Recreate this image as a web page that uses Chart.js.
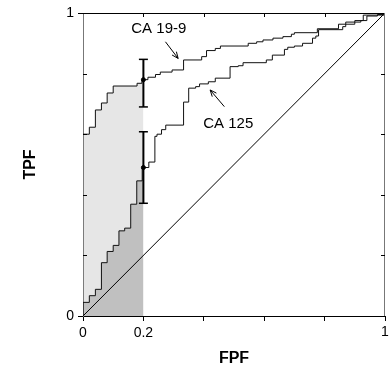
<!DOCTYPE html>
<html>
<head>
<meta charset="utf-8">
<script src="https://cdn.jsdelivr.net/npm/chart.js@4/dist/chart.umd.min.js"></script>
<style>
  body { margin: 0; background: #fff; }
</style>
</head>
<body>
<canvas id="roc" width="389" height="369"></canvas>
<script>
// ROC curves: each (fpf, tpf) pair is where a step ends
// (horizontal run first, then the jump up)
const ca199Fpf = [0, 0, 0.021, 0.041, 0.061, 0.080, 0.100, 0.179, 0.195, 0.215, 0.240, 0.256, 0.295,
  0.333, 0.393, 0.409, 0.438, 0.455, 0.547, 0.575, 0.596, 0.629, 0.662, 0.690, 0.700, 0.776, 0.846,
  0.900, 0.928, 1];
const ca199Tpf = [0, 0.600, 0.623, 0.680, 0.703, 0.736, 0.759, 0.768, 0.780, 0.788, 0.797, 0.805, 0.812,
  0.845, 0.856, 0.876, 0.883, 0.891, 0.900, 0.905, 0.911, 0.917, 0.922, 0.930, 0.935, 0.948, 0.963,
  0.975, 0.993, 1];

const ca125Fpf = [0, 0, 0.021, 0.041, 0.061, 0.080, 0.100, 0.119, 0.138, 0.158, 0.178, 0.196, 0.218,
  0.238, 0.245, 0.260, 0.274, 0.333, 0.350, 0.373, 0.386, 0.415, 0.438, 0.487, 0.514, 0.530, 0.607,
  0.627, 0.667, 0.678, 0.700, 0.727, 0.760, 0.771, 0.780, 0.860, 0.870, 0.920, 0.940, 0.975, 1];
const ca125Tpf = [0, 0.045, 0.067, 0.088, 0.176, 0.213, 0.233, 0.281, 0.290, 0.369, 0.446, 0.490, 0.508,
  0.593, 0.600, 0.615, 0.630, 0.706, 0.752, 0.757, 0.766, 0.773, 0.785, 0.823, 0.826, 0.836, 0.845,
  0.861, 0.880, 0.887, 0.891, 0.900, 0.917, 0.924, 0.945, 0.955, 0.970, 0.975, 0.990, 0.995, 1];

// TPF at FPF = 0.2 with its interval, [CA 19-9, CA 125]
const cutFpf = 0.2;
const cutTpf = [0.780, 0.490];
const cutLow = [0.690, 0.372];
const cutHigh = [0.847, 0.608];

const curveNames = ['CA 19-9', 'CA 125'];
// label place and arrow (tail -> head), in data units
const labelAt = [[0.251, 0.947], [0.481, 0.634]];
const arrowFrom = [[0.273, 0.905], [0.468, 0.691]];
const arrowTo = [[0.315, 0.850], [0.421, 0.746]];

const xTickLabels = [0, 0.2, 1];
const yTickLabels = [0, 1];

function pts(xs, ys) {
  return xs.map((v, i) => ({ x: v, y: ys[i] }));
}
// part of a curve from 0 up to lim, for the shaded areas
function upTo(xs, ys, lim) {
  const out = [];
  let last = 0;
  xs.forEach((v, i) => {
    if (v <= lim) { out.push({ x: v, y: ys[i] }); last = ys[i]; }
  });
  out.push({ x: lim, y: last });
  return out;
}
function isLabel(list, v) {
  return list.some(t => Math.abs(t - v) < 1e-6);
}

const FONT = 'Liberation Sans, Arial, sans-serif';

const extras = {
  id: 'extras',
  afterDatasetsDraw(chart) {
    const { ctx, chartArea: a, scales: { x, y } } = chart;
    ctx.save();
    ctx.lineWidth = 1;
    ctx.strokeStyle = '#000';
    ctx.beginPath();
    ctx.moveTo(a.left, a.top + 0.5);
    ctx.lineTo(a.right, a.top + 0.5);
    ctx.stroke();
    ctx.strokeStyle = '#777';
    ctx.beginPath();
    ctx.moveTo(a.right - 0.5, a.top);
    ctx.lineTo(a.right - 0.5, a.bottom);
    ctx.stroke();

    // inner ticks on top, left and right
    ctx.strokeStyle = '#000';
    ctx.beginPath();
    x.ticks.forEach(t => {
      if (t.value <= 0 || t.value >= 1) return;
      const px = Math.round(x.getPixelForValue(t.value)) + 0.5;
      ctx.moveTo(px, a.top);
      ctx.lineTo(px, a.top + 4);
    });
    y.ticks.forEach(t => {
      if (t.value <= 0 || t.value >= 1) return;
      const py = Math.round(y.getPixelForValue(t.value)) + 0.5;
      ctx.moveTo(a.left, py);
      ctx.lineTo(a.left + 4, py);
      ctx.moveTo(a.right, py);
      ctx.lineTo(a.right - 4, py);
    });
    ctx.stroke();

    // last x label, drawn here so the scale does not pad the plot for it
    ctx.fillStyle = '#000';
    ctx.font = '14px ' + FONT;
    ctx.textAlign = 'center';
    ctx.textBaseline = 'top';
    ctx.fillText(String(xTickLabels[xTickLabels.length - 1]),
      x.getPixelForValue(xTickLabels[xTickLabels.length - 1]), a.bottom + 9);

    // curve names with arrows
    ctx.font = '15px ' + FONT;
    ctx.textBaseline = 'middle';
    curveNames.forEach((name, i) => {
      ctx.fillText(name, x.getPixelForValue(labelAt[i][0]), y.getPixelForValue(labelAt[i][1]));
      const x0 = x.getPixelForValue(arrowFrom[i][0]), y0 = y.getPixelForValue(arrowFrom[i][1]);
      const x1 = x.getPixelForValue(arrowTo[i][0]), y1 = y.getPixelForValue(arrowTo[i][1]);
      const ang = Math.atan2(y1 - y0, x1 - x0);
      ctx.beginPath();
      ctx.moveTo(x0, y0);
      ctx.lineTo(x1, y1);
      ctx.moveTo(x1 - 7 * Math.cos(ang - 0.4), y1 - 7 * Math.sin(ang - 0.4));
      ctx.lineTo(x1, y1);
      ctx.lineTo(x1 - 7 * Math.cos(ang + 0.4), y1 - 7 * Math.sin(ang + 0.4));
      ctx.stroke();
    });
    ctx.restore();
  }
};

const datasets = [
  { data: upTo(ca199Fpf, ca199Tpf, cutFpf), stepped: true, fill: 'origin',
    backgroundColor: '#e6e6e6', borderWidth: 0, pointRadius: 0, order: 10 },
  { data: upTo(ca125Fpf, ca125Tpf, cutFpf), stepped: true, fill: 'origin',
    backgroundColor: '#c0c0c0', borderWidth: 0, pointRadius: 0, order: 9 },
  { data: [{ x: 0, y: 0 }, { x: 1, y: 1 }], borderColor: '#000', borderWidth: 1,
    pointRadius: 0, order: 5 },
  { data: pts(ca199Fpf, ca199Tpf), stepped: true, borderColor: '#111', borderWidth: 1,
    pointRadius: 0, order: 4 },
  { data: pts(ca125Fpf, ca125Tpf), stepped: true, borderColor: '#111', borderWidth: 1,
    pointRadius: 0, order: 3 }
];
cutTpf.forEach((v, i) => {
  datasets.push({
    data: [{ x: cutFpf, y: cutLow[i] }, { x: cutFpf, y: cutHigh[i] }],
    borderColor: '#000', borderWidth: 2, pointStyle: 'line', pointRadius: 4.5,
    pointBorderColor: '#000', pointBorderWidth: 1.5, order: 2
  });
  datasets.push({
    data: [{ x: cutFpf, y: v }], showLine: false, pointRadius: 2,
    pointBackgroundColor: '#000', pointBorderColor: '#000', order: 1
  });
});

new Chart(document.getElementById('roc'), {
  type: 'scatter',
  data: { datasets: datasets.map(d => Object.assign({ showLine: true }, d)) },
  options: {
    responsive: false,
    animation: false,
    devicePixelRatio: 1,
    layout: { autoPadding: false, padding: { top: 13, right: 1, left: 0, bottom: 0 } },
    plugins: { legend: { display: false }, tooltip: { enabled: false } },
    scales: {
      x: {
        type: 'linear', min: 0, max: 1,
        afterFit(s) { s.height = 53; },
        grid: { drawOnChartArea: false, tickLength: 5, color: '#000' },
        border: { color: '#000', width: 1 },
        ticks: {
          stepSize: 0.2, autoSkip: false, maxRotation: 0, padding: 4,
          color: '#000', font: { family: FONT, size: 14 },
          // the 1 at the far end is drawn by the plugin
          callback: v => (v < 1 - 1e-6 && isLabel(xTickLabels, v)) ? String(Math.round(v * 10) / 10) : ''
        },
        title: { display: true, text: 'FPF', color: '#000',
          font: { family: FONT, size: 16, weight: 'bold' }, padding: { top: 0, bottom: 1 } }
      },
      y: {
        type: 'linear', min: 0, max: 1,
        afterFit(s) { s.width = 83; },
        grid: { drawOnChartArea: false, tickLength: 5,
          color: c => (c.tick && isLabel(yTickLabels, c.tick.value)) ? '#000' : 'rgba(0,0,0,0)' },
        border: { color: '#777', width: 1 },
        ticks: {
          stepSize: 0.2, autoSkip: false, padding: 4,
          color: '#000', font: { family: FONT, size: 14 },
          callback: v => isLabel(yTickLabels, v) ? String(Math.round(v)) : ''
        },
        title: { display: true, text: 'TPF', color: '#000',
          font: { family: FONT, size: 16, weight: 'bold' }, padding: { top: 21, bottom: 0 } }
      }
    }
  },
  plugins: [extras]
});
</script>
</body>
</html>
